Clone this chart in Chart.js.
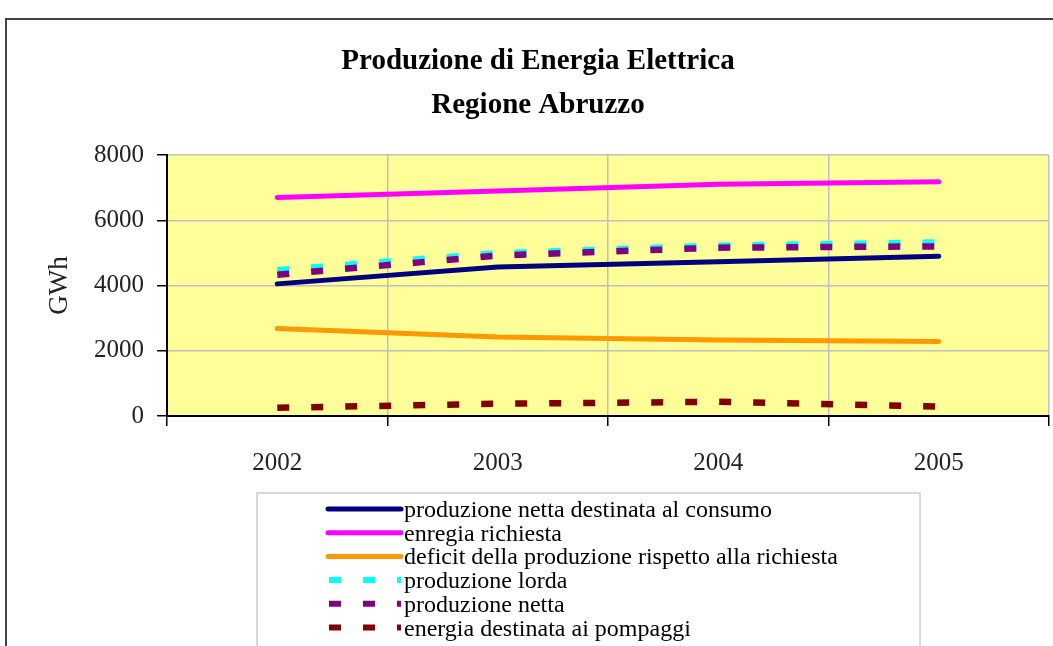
<!DOCTYPE html>
<html>
<head>
<meta charset="utf-8">
<title>Produzione di Energia Elettrica - Regione Abruzzo</title>
<script src="https://cdn.jsdelivr.net/npm/chart.js@4.4.1/dist/chart.umd.min.js"></script>
<style>
  html, body { margin: 0; padding: 0; background: #fff; overflow: hidden; }
  #frame {
    position: absolute; left: 5px; top: 18px;
    width: 1100px; height: 700px;
    border: 2px solid #444; box-sizing: border-box;
  }
  #wrap { position: absolute; left: 0; top: 0; width: 1053px; height: 646px; }
</style>
</head>
<body>
<div id="frame"></div>
<div id="wrap"><canvas id="chart" width="1053" height="646"></canvas></div>
<script>
const titleLines = ["Produzione di Energia Elettrica", "Regione Abruzzo"];
const years = ["2002", "2003", "2004", "2005"];

const nettaConsumo = [4050, 4570, 4730, 4900];
const richiesta = [6700, 6900, 7100, 7180];
const deficit = [2680, 2420, 2330, 2280];
const lorda = [4470, 4990, 5220, 5320];
const netta = [4330, 4920, 5160, 5200];
const pompaggi = [250, 375, 435, 290];

const yMin = 0, yMax = 8000, yStep = 2000;

Chart.defaults.font.family = "'Liberation Serif', 'Times New Roman', serif";
Chart.defaults.color = "#222";

function solid(label, data, color) {
  return {
    label, data,
    borderColor: color, backgroundColor: color,
    borderWidth: 5, borderCapStyle: "round",
    pointRadius: 0, tension: 0, fill: false
  };
}

function dashed(label, data, color, order = 0) {
  return {
    label, data, order,
    borderColor: color, backgroundColor: color,
    borderWidth: 6.5, borderDash: [12, 22], borderCapStyle: "butt",
    pointRadius: 0, tension: 0, fill: false
  };
}

// yellow plot background
const plotArea = {
  id: "plotArea",
  beforeDraw(chart) {
    const { ctx, chartArea: a } = chart;
    ctx.save();
    ctx.fillStyle = "#ffff99";
    ctx.fillRect(a.left, a.top, a.width, a.height);
    ctx.restore();
  }
};

// boxed legend under the axis, one entry per row
const legendBox = {
  id: "legendBox",
  afterDraw(chart) {
    const ctx = chart.ctx;
    const left = 257, top = 493, right = 920;
    ctx.save();
    ctx.fillStyle = "#fff";
    ctx.fillRect(left, top, right - left, 200);
    ctx.strokeStyle = "#cccccc";
    ctx.lineWidth = 1.5;
    ctx.strokeRect(left, top, right - left, 200);

    chart.data.datasets.forEach((ds, i) => {
      const y = 509 + i * 23.7;
      ctx.beginPath();
      ctx.strokeStyle = ds.borderColor;
      ctx.lineWidth = ds.borderDash ? 6 : 5;
      if (ds.borderDash) {
        ctx.setLineDash(ds.borderDash);
        ctx.lineCap = "butt";
        ctx.moveTo(329, y);
      } else {
        ctx.setLineDash([]);
        ctx.lineCap = "round";
        ctx.moveTo(328, y);
      }
      ctx.lineTo(401, y);
      ctx.stroke();

      ctx.setLineDash([]);
      ctx.fillStyle = "#000";
      ctx.font = "24px 'Liberation Serif', serif";
      ctx.textBaseline = "alphabetic";
      ctx.textAlign = "left";
      ctx.fillText(ds.label, 404, y + 8);
    });
    ctx.restore();
  }
};

const chart = new Chart(document.getElementById("chart"), {
  type: "line",
  data: {
    labels: years,
    datasets: [
      solid("produzione netta destinata al consumo", nettaConsumo, "#000080"),
      solid("enregia richiesta", richiesta, "#ff00ff"),
      solid("deficit della produzione rispetto alla richiesta", deficit, "#ff9900"),
      dashed("produzione lorda", lorda, "#00ffff", 1),
      dashed("produzione netta", netta, "#800080"),
      dashed("energia destinata ai pompaggi", pompaggi, "#800000")
    ]
  },
  options: {
    responsive: false,
    animation: false,
    layout: { padding: { left: 27, right: 4, top: 0, bottom: 160 } },
    plugins: {
      legend: { display: false },
      tooltip: { enabled: false },
      title: {
        display: true,
        text: titleLines,
        color: "#000",
        font: { size: 29, weight: "bold", lineHeight: 44 / 29 },
        padding: { top: 40, bottom: 27 }
      }
    },
    scales: {
      x: {
        offset: true,
        grid: { offset: true, color: "#c0c0c0", tickColor: "#000", tickLength: 10, lineWidth: 1.5 },
        border: { color: "#000", width: 2 },
        ticks: { font: { size: 25 }, padding: 22, maxRotation: 0 },
        afterFit(scale) { scale.height = 70; }
      },
      y: {
        min: yMin, max: yMax,
        ticks: { stepSize: yStep, font: { size: 25 }, padding: 13, callback: v => String(v) },
        grid: { color: "#c0c0c0", tickColor: "#000", tickLength: 10, lineWidth: 1.5 },
        border: { color: "#000", width: 2 },
        title: { display: true, text: "GWh", font: { size: 27 }, padding: { top: 17, bottom: 0 } },
        afterFit(scale) { scale.width = 140; }
      }
    }
  },
  plugins: [plotArea, legendBox]
});
</script>
</body>
</html>
